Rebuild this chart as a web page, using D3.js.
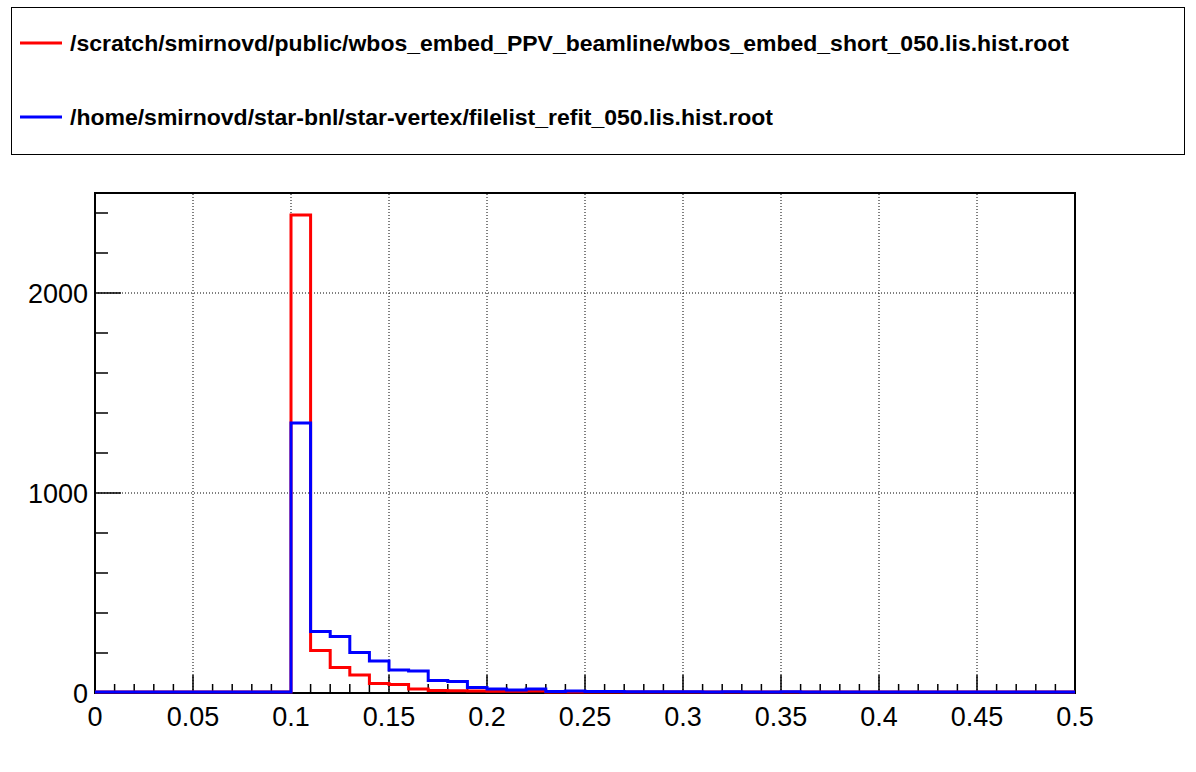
<!DOCTYPE html>
<html>
<head>
<meta charset="utf-8">
<script src="https://cdn.jsdelivr.net/npm/d3@7/dist/d3.min.js"></script>
<style>
  html, body { margin: 0; padding: 0; background: #fff; }
  svg { display: block; }
</style>
</head>
<body>
<svg id="chart" width="1196" height="772"></svg>
<script>
// ---- data ----
const xMin = 0, xMax = 0.5, binWidth = 0.01;
const legendLabels = [
  "/scratch/smirnovd/public/wbos_embed_PPV_beamline/wbos_embed_short_050.lis.hist.root",
  "/home/smirnovd/star-bnl/star-vertex/filelist_refit_050.lis.hist.root"
];
const seriesColors = ["#ff0000", "#0000ff"];
const redCounts = [
  0, 0, 0, 0, 0, 0, 0, 0, 0, 0,
  2385, 207, 123, 85, 43, 38, 15, 7, 6, 5,
  4, 4, 5, 0, 0, 0, 0, 0, 0, 0,
  0, 0, 0, 0, 0, 0, 0, 0, 0, 0,
  0, 0, 0, 0, 0, 0, 0, 0, 0, 0
];
const blueCounts = [
  0, 0, 0, 0, 0, 0, 0, 0, 0, 0,
  1345, 303, 278, 198, 155, 110, 105, 58, 53, 23,
  15, 10, 15, 3, 5, 3, 2, 1, 1, 1,
  1, 0, 1, 0, 0, 1, 0, 0, 0, 0,
  0, 0, 0, 0, 0, 0, 0, 0, 0, 0
];
const xTickValues = [0, 0.05, 0.1, 0.15, 0.2, 0.25, 0.3, 0.35, 0.4, 0.45, 0.5];
const xTickLabels = ["0", "0.05", "0.1", "0.15", "0.2", "0.25", "0.3", "0.35", "0.4", "0.45", "0.5"];
const yTickValues = [0, 1000, 2000];
const yTickLabels = ["0", "1000", "2000"];
const yMax = 2500;

// ---- layout ----
const svg = d3.select("#chart");
const L = 95, R = 1075, T = 193, B = 693;
const x = d3.scaleLinear().domain([xMin, xMax]).range([L, R]);
const y = d3.scaleLinear().domain([0, yMax]).range([B, T]);

// grid
const g = svg.append("g");
xTickValues.filter(v => v > xMin && v < xMax).forEach(v => {
  g.append("line").attr("x1", x(v)).attr("x2", x(v)).attr("y1", B).attr("y2", T)
    .attr("stroke", "#000").attr("stroke-width", 1).attr("stroke-dasharray", "1 2");
});
yTickValues.filter(v => v > 0 && v < yMax).forEach(v => {
  g.append("line").attr("x1", L).attr("x2", R).attr("y1", y(v)).attr("y2", y(v))
    .attr("stroke", "#000").attr("stroke-width", 1).attr("stroke-dasharray", "1 2");
});

// frame
svg.append("rect").attr("x", L).attr("y", T).attr("width", R - L).attr("height", B - T)
  .attr("fill", "none").attr("stroke", "#000").attr("stroke-width", 2);

// axes ticks (inside)
const xAxis = svg.append("g");
const xMinor = d3.range(0, 51).map(i => xMin + i * binWidth);
xMinor.forEach((v, i) => {
  const major = i % 5 === 0;
  xAxis.append("line").attr("x1", x(v)).attr("x2", x(v))
    .attr("y1", B).attr("y2", B - (major ? 18 : 9))
    .attr("stroke", "#000").attr("stroke-width", 1.5);
});
xTickValues.forEach((v, i) => {
  xAxis.append("text").attr("x", x(v)).attr("y", 726)
    .attr("text-anchor", "middle").attr("font-family", "Liberation Sans, Arial, sans-serif")
    .attr("font-size", 27).attr("fill", "#000").text(xTickLabels[i]);
});
const yAxis = svg.append("g");
d3.range(0, yMax + 1, 200).forEach(v => {
  const major = v % 1000 === 0;
  yAxis.append("line").attr("x1", L).attr("x2", L + (major ? 26 : 13))
    .attr("y1", y(v)).attr("y2", y(v)).attr("stroke", "#000").attr("stroke-width", 1.5);
});
yTickValues.forEach((v, i) => {
  yAxis.append("text").attr("x", 88).attr("y", y(v) + 9.5)
    .attr("text-anchor", "end").attr("font-family", "Liberation Sans, Arial, sans-serif")
    .attr("font-size", 27).attr("fill", "#000").text(yTickLabels[i]);
});

// histograms (drawn over the frame)
function stepPoints(counts) {
  const pts = [];
  counts.forEach((c, i) => {
    const lo = xMin + i * binWidth;
    pts.push([lo, c], [lo + binWidth, c]);
  });
  return pts;
}
const line = d3.line().x(d => x(d[0])).y(d => y(d[1]) - 1);
[redCounts, blueCounts].forEach((counts, k) => {
  svg.append("path").attr("d", line(stepPoints(counts)))
    .attr("fill", "none").attr("stroke", seriesColors[k]).attr("stroke-width", 3)
    .attr("stroke-linejoin", "miter").attr("stroke-linecap", "butt");
});

// legend
svg.append("rect").attr("x", 11.5).attr("y", 7.5).attr("width", 1173).attr("height", 147)
  .attr("fill", "#fff").attr("stroke", "#000").attr("stroke-width", 1);
const legendY = [43, 117];
const legendWidths = [999, 703];
legendLabels.forEach((lab, i) => {
  svg.append("line").attr("x1", 20).attr("x2", 62).attr("y1", legendY[i]).attr("y2", legendY[i])
    .attr("stroke", seriesColors[i]).attr("stroke-width", 3);
  svg.append("text").attr("x", 70).attr("y", legendY[i] + 8)
    .attr("font-family", "Liberation Sans, Arial, sans-serif").attr("font-weight", "bold")
    .attr("font-size", 22).attr("fill", "#000")
    .attr("textLength", legendWidths[i]).attr("lengthAdjust", "spacingAndGlyphs")
    .text(lab);
});
</script>
</body>
</html>
